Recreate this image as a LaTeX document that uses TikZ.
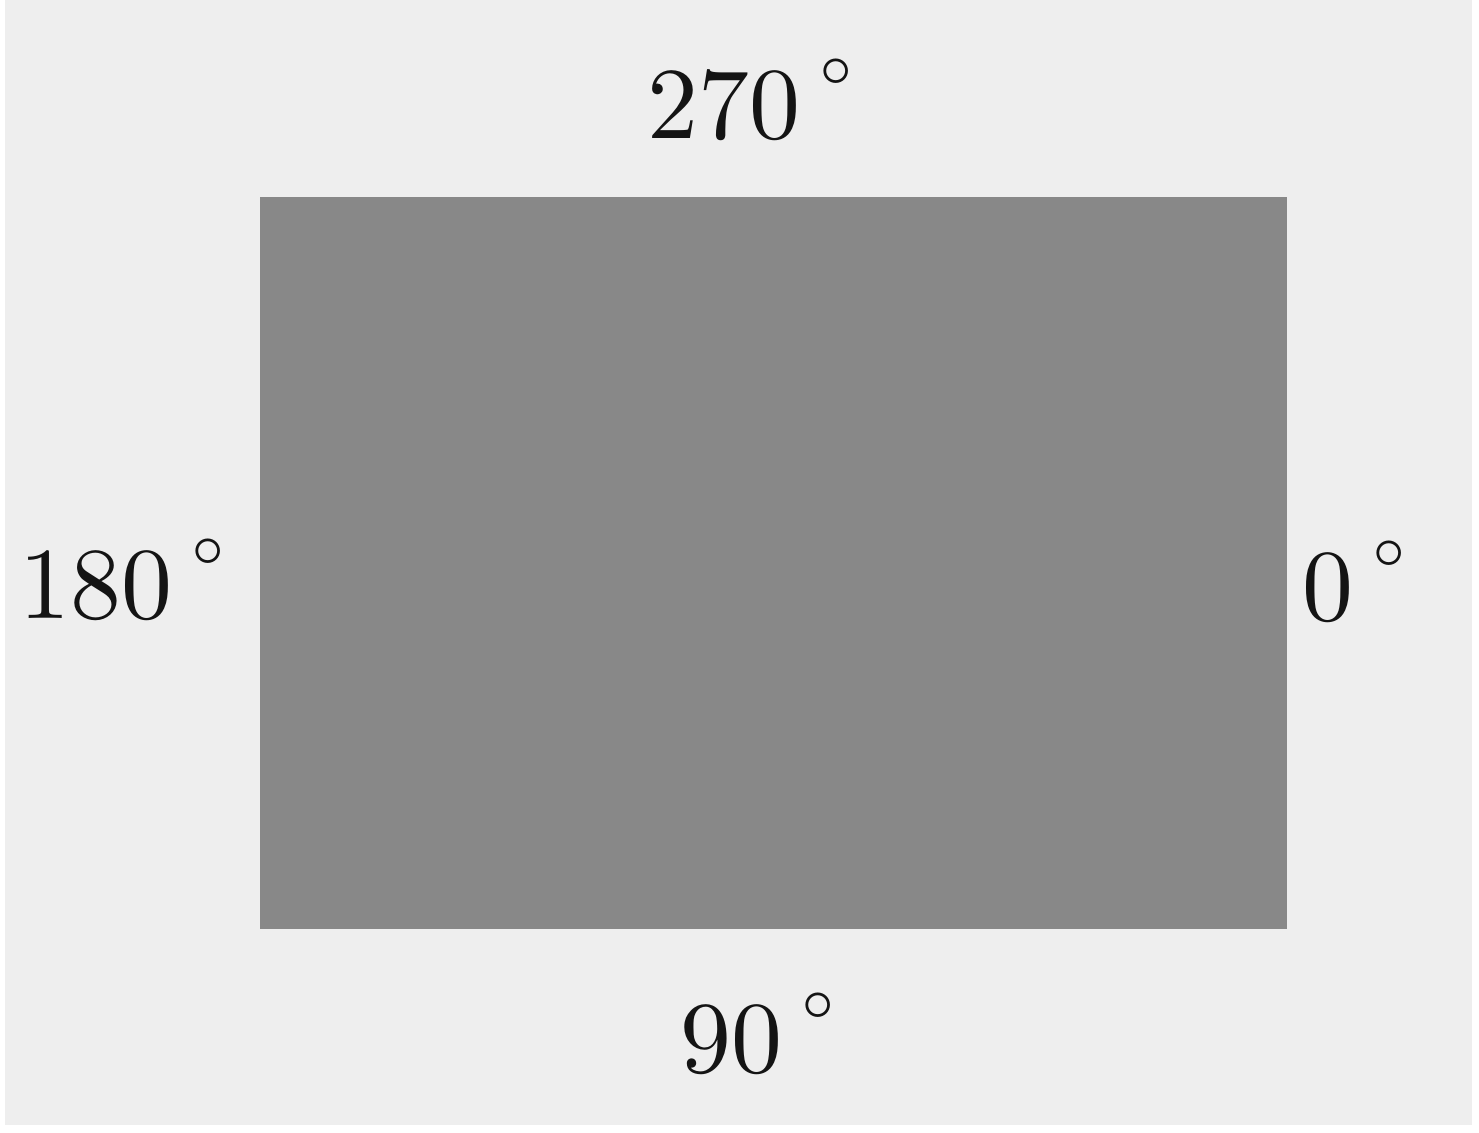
\RequirePackage{fix-cm}
\documentclass[tikz,border=0pt]{standalone}
\usepackage{graphicx}
\newcommand{\degsign}{\kern1.9pt\raisebox{5.2pt}{\scalebox{0.8}{$\scriptstyle\circ$}}}
\newcommand{\bigdeg}[1]{\scalebox{5.8}{$#1$\degsign}}
\begin{document}
\begin{tikzpicture}[x=0.02cm,y=-0.02cm,
  lbl/.style={inner sep=0pt,anchor=base west,font=\fontsize{10}{12}\selectfont,text=black!92}]
\definecolor{bgc}{HTML}{EEEEEE}
\definecolor{boxc}{HTML}{888888}
\useasboundingbox (0,0) rectangle (1479,1132);
\fill[white] (0,0) rectangle (1479,1132);
\fill[bgc] (5,0) rectangle (1472,1125);
\fill[boxc] (260,197) rectangle (1287,929);
\coordinate (box) at (773,563);
\node[lbl] (top) at (647,138) {\bigdeg{270}};
\node[lbl] (left) at (19,618) {\bigdeg{180}};
\node[lbl] (right) at (1302,620) {\bigdeg{0}};
\node[lbl] (bottom) at (680,1072) {\bigdeg{90}};
\end{tikzpicture}
\end{document}
